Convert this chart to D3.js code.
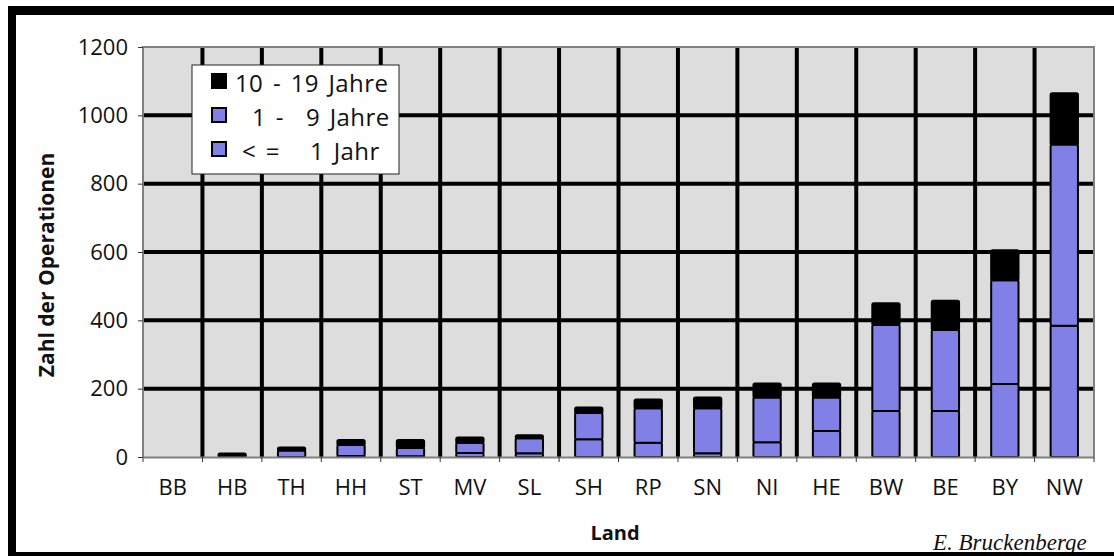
<!DOCTYPE html>
<html>
<head>
<meta charset="utf-8">
<script src="https://cdn.jsdelivr.net/npm/d3@7"></script>
<style>
  html, body { margin: 0; padding: 0; background: #fff; }
  svg { display: block; }
  text { font-family: "Open Sans", "Noto Sans", sans-serif; fill: #111; }
</style>
</head>
<body>
<svg id="chart" width="1114" height="556"></svg>
<script>
// Operations by federal state, split by patient age group
const categories = ["BB", "HB", "TH", "HH", "ST", "MV", "SL", "SH", "RP", "SN", "NI", "HE", "BW", "BE", "BY", "NW"];
const upTo1Year   = [0, 0, 0, 3, 2, 12, 11, 52, 42, 11, 43, 76, 135, 135, 214, 384];
const years1to9   = [0, 0, 19, 32, 24, 30, 44, 77, 101, 132, 131, 98, 251, 237, 303, 531];
const years10to19 = [0, 10, 9, 15, 24, 15, 9, 16, 25, 31, 41, 41, 64, 85, 88, 150];
const yTicks = [0, 200, 400, 600, 800, 1000, 1200];
const seriesNames = ["< =   1 Jahr", "1 -   9 Jahre", "10 - 19 Jahre"];
const yTitle = "Zahl der Operationen";
const xTitle = "Land";
const author = "E. Bruckenberge";

const BLUE = "#8080e6";
const seriesColors = [BLUE, BLUE, "#000"];

const svg = d3.select("#chart");
const plot = { left: 143, right: 1094, top: 47, bottom: 457 };

const x = d3.scaleBand().domain(categories).range([plot.left, plot.right]);
const y = d3.scaleLinear().domain([0, 1200]).range([plot.bottom, plot.top]);

// plot background
svg.append("rect")
  .attr("x", plot.left).attr("y", plot.top)
  .attr("width", plot.right - plot.left).attr("height", plot.bottom - plot.top)
  .attr("fill", "#dddddd");

// horizontal gridlines
svg.append("g").selectAll("line")
  .data(yTicks.filter(v => v > 0 && v < 1200))
  .join("line")
  .attr("x1", plot.left).attr("x2", plot.right)
  .attr("y1", d => y(d)).attr("y2", d => y(d))
  .attr("stroke", "#000").attr("stroke-width", 4);

// vertical gridlines between categories
svg.append("g").selectAll("line")
  .data(categories.slice(1))
  .join("line")
  .attr("x1", d => x(d)).attr("x2", d => x(d))
  .attr("y1", plot.top).attr("y2", plot.bottom)
  .attr("stroke", "#000").attr("stroke-width", 4);

// stacked bars
const rows = categories.map((c, i) => ({ cat: c, s0: upTo1Year[i], s1: years1to9[i], s2: years10to19[i] }));
const stacked = d3.stack().keys(["s0", "s1", "s2"])(rows);
const barW = x.bandwidth() * 0.46;

stacked.forEach((layer, li) => {
  svg.append("g").selectAll("rect")
    .data(layer.filter(d => d[1] - d[0] > 0))
    .join("rect")
    .attr("x", d => x(d.data.cat) + (x.bandwidth() - barW) / 2)
    .attr("y", d => y(d[1]))
    .attr("width", barW)
    .attr("height", d => y(d[0]) - y(d[1]))
    .attr("rx", 1.5)
    .attr("fill", seriesColors[li])
    .attr("stroke", "#000")
    .attr("stroke-width", 2);
});

// plot border (left, top, right) and x axis
svg.append("path")
  .attr("d", `M${plot.left},${plot.bottom}V${plot.top}H${plot.right}V${plot.bottom}`)
  .attr("fill", "none").attr("stroke", "#808080").attr("stroke-width", 2);

const xAxis = svg.append("g")
  .attr("transform", `translate(0,${plot.bottom})`)
  .call(d3.axisBottom(x).tickSize(0).tickPadding(0));
xAxis.select(".domain").attr("stroke", "#808080").attr("stroke-width", 2);
xAxis.selectAll(".tick text")
  .attr("y", 38).attr("dy", 0)
  .style("font-size", "22px").style("font-family", "'Open Sans', sans-serif").attr("fill", "#111");
// category boundary ticks
svg.append("g").selectAll("line")
  .data(d3.range(categories.length + 1))
  .join("line")
  .attr("x1", i => plot.left + i * x.step()).attr("x2", i => plot.left + i * x.step())
  .attr("y1", plot.bottom).attr("y2", plot.bottom + 5)
  .attr("stroke", "#333").attr("stroke-width", 1);

// y axis
const yAxis = svg.append("g")
  .attr("transform", `translate(${plot.left},0)`)
  .call(d3.axisLeft(y).tickValues(yTicks).tickFormat(d3.format("d")).tickSize(5).tickPadding(10));
yAxis.select(".domain").remove();
yAxis.selectAll(".tick line").attr("stroke", "#333");
yAxis.selectAll(".tick text")
  .style("font-size", "22px").style("font-family", "'Open Sans', sans-serif").attr("fill", "#111");

// axis titles
svg.append("text")
  .attr("transform", "translate(54,265) rotate(-90)")
  .attr("text-anchor", "middle")
  .style("font-size", "21px").style("font-weight", "bold")
  .text(yTitle);

svg.append("text")
  .attr("x", 615).attr("y", 540)
  .attr("text-anchor", "middle")
  .style("font-size", "20px").style("font-weight", "bold")
  .text(xTitle);

// legend
const legend = svg.append("g");
legend.append("rect")
  .attr("x", 192).attr("y", 65).attr("width", 207).attr("height", 109)
  .attr("fill", "#fff").attr("stroke", "#222").attr("stroke-width", 1);
// each label: leading part and right-aligned remainder (split at the wide gap)
const legendItems = [2, 1, 0];
const partX = { 2: [235], 1: [252, 306], 0: [242, 310] };
legendItems.forEach((si, row) => {
  const top = 74 + row * 34;
  legend.append("rect")
    .attr("x", 212).attr("y", top).attr("width", 14).attr("height", 14)
    .attr("fill", seriesColors[si]).attr("stroke", "#000").attr("stroke-width", 2);
  const t = legend.append("text")
    .attr("y", top + 18)
    .style("font-size", "24px").style("word-spacing", "3px").style("letter-spacing", "0.4px");
  seriesNames[si].split(/\s{2,}/).forEach((part, k) => {
    t.append("tspan").attr("x", partX[si][k]).text(part);
  });
});

// signature
svg.append("text")
  .attr("x", 933).attr("y", 550)
  .style("font-family", "'Liberation Serif', 'Times New Roman', serif")
  .style("font-style", "italic").style("font-size", "23px")
  .text(author);

// outer frame
svg.append("rect").attr("x", 8).attr("y", 6).attr("width", 8).attr("height", 550).attr("fill", "#000");
svg.append("rect").attr("x", 8).attr("y", 6).attr("width", 1106).attr("height", 9).attr("fill", "#000");
svg.append("rect").attr("x", 8).attr("y", 552).attr("width", 1106).attr("height", 4).attr("fill", "#000");
</script>
</body>
</html>
